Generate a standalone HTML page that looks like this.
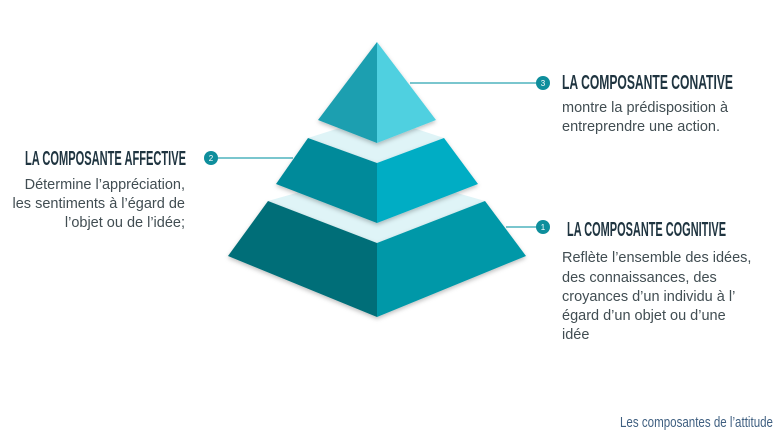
<!DOCTYPE html>
<html><head><meta charset="utf-8"><style>
html,body{margin:0;padding:0;background:#fff;}
svg{display:block;}
.h{font-family:"Liberation Sans",sans-serif;font-weight:bold;fill:#1f3440;}
.b{font-family:"Liberation Sans",sans-serif;font-size:14.5px;fill:#414d52;}
</style></head><body>
<svg width="780" height="438" viewBox="0 0 780 438" xmlns="http://www.w3.org/2000/svg">
<defs><filter id="s" x="-10%" y="-10%" width="120%" height="130%"><feDropShadow dx="0" dy="2" stdDeviation="2" flood-opacity="0.25"/></filter></defs>
<polygon points="268,201 377,170 485,201 377,243" fill="#dff4f7"/>
<polygon points="308,138 377,116 444,138 377,163" fill="#dff4f7"/>
<g filter="url(#s)">
<polygon points="268,201 377,243 377,317 228,256" fill="#036e78"/>
<polygon points="377,243 485,201 526,256 377,317" fill="#0498a8"/>
</g>
<g filter="url(#s)">
<polygon points="308,138 377,163 377,223 276,184" fill="#028a9a"/>
<polygon points="377,163 444,138 478,184 377,223" fill="#00adc4"/>
</g>
<g filter="url(#s)">
<polygon points="377,42 377,143 318,120" fill="#1c9fb0"/>
<polygon points="377,42 436,120 377,143" fill="#4fd0e0"/>
</g>
<line x1="410" y1="83" x2="540" y2="83" stroke="#2aa3b0" stroke-width="1.2"/>
<circle cx="543" cy="83" r="7" fill="#0e8e9c"/>
<text x="543" y="86" font-family="Liberation Sans" font-size="8" fill="#fff" text-anchor="middle">3</text>
<line x1="211" y1="158" x2="293" y2="158" stroke="#2aa3b0" stroke-width="1.2"/>
<circle cx="211" cy="158" r="7" fill="#0e8e9c"/>
<text x="211" y="161" font-family="Liberation Sans" font-size="8" fill="#fff" text-anchor="middle">2</text>
<line x1="506" y1="227" x2="540" y2="227" stroke="#2aa3b0" stroke-width="1.2"/>
<circle cx="543" cy="227" r="7" fill="#0e8e9c"/>
<text x="543" y="230" font-family="Liberation Sans" font-size="8" fill="#fff" text-anchor="middle">1</text>
<text class="h" x="562" y="89" font-size="20" textLength="171" lengthAdjust="spacingAndGlyphs">LA COMPOSANTE CONATIVE</text>
<text class="b" x="562" y="112">montre la prédisposition à</text>
<text class="b" x="562" y="131">entreprendre une action.</text>
<text class="h" x="25" y="165" font-size="20" textLength="161" lengthAdjust="spacingAndGlyphs">LA COMPOSANTE AFFECTIVE</text>
<text class="b" x="185" y="189" text-anchor="end">Détermine l’appréciation,</text>
<text class="b" x="185" y="208" text-anchor="end">les sentiments à l’égard de</text>
<text class="b" x="185" y="227" text-anchor="end">l’objet ou de l’idée;</text>
<text class="h" x="567" y="236" font-size="20" textLength="159" lengthAdjust="spacingAndGlyphs">LA COMPOSANTE COGNITIVE</text>
<text class="b" x="562" y="262">Reflète l’ensemble des idées,</text>
<text class="b" x="562" y="282">des connaissances, des</text>
<text class="b" x="562" y="301">croyances d’un individu à l’</text>
<text class="b" x="562" y="320">égard d’un objet ou d’une</text>
<text class="b" x="562" y="339">idée</text>
<text x="620" y="427" font-family="Liberation Sans" font-size="15" fill="#3f5f80" textLength="153" lengthAdjust="spacingAndGlyphs">Les composantes de l’attitude</text>
</svg>
</body></html>
